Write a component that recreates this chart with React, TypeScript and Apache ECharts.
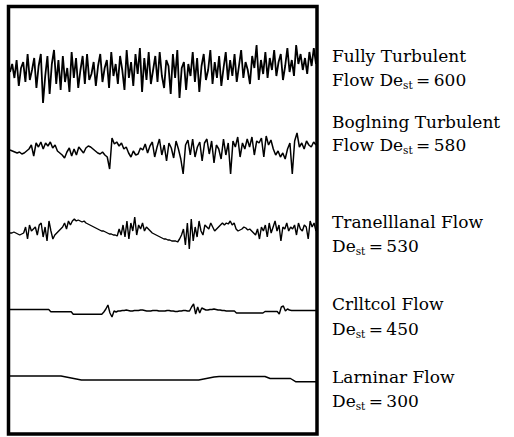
import React, { useEffect, useRef } from "react";
import * as echarts from "echarts";

// Signal traces (vertical deflection in px-like units, positive = up)
const fullyTurbulent = [
  0, 8, -6, 12, -14, 4, 10, -10, 18, -8, 2, 14, -16, 6, 18, -31, -4, 16, -22, 8,
  22, -12, 12, -18, 16, -10, 4, -20, 20, -6, 14, -16, 2, 16, -12, 18, -8, -2, 10, -14,
  6, 18, -10, 4, 12, -16, 20, -4, 8, -12, 16, 2, -18, 22, -6, 10, -14, 18, -2, 24,
  -20, 14, -8, 20, -12, 2, 16, -10, 20, -4, -16, 12, 6, -22, 18, -6, 22, -26, 4, 10,
  -18, 8, -4, 20, -10, 14, -20, 6, 18, -8, 2, 22, -12, 10, -6, 16, -14, 4, 20, -8,
  12, -4, 18, -10, 6, 22, -6, 10, 2, -12, 16, 4, 27, -8, 12, -2, 20, -6, 14, 2,
  22, -4, 10, 18, -8, 6, 24, 0, 12, -4, 27, 8, 18, 2, 14, -2, 20, 6, 24, 8,
];

const beginningTurbulent = [
  1, 0, -1, -2, -1, -3, -2, 0, 2, 6,
  -5, 8, 4, 9, 2, 8, 5, 9, 3, 6,
  0, -2, -4, -7, -1, 3, -5, 2, -4, 4,
  1, -2, 3, 5, 4, 2, 0, -2, -3, -1,
  -4, -6, -18, 13, 7, 9, 5, 8, 2, 4,
  -2, -6, 0, -4, -3, 3, 1, 7, -2, 5,
  9, -6, 4, 12, -4, 6, -10, 8, 3, -7,
  10, 2, -8, -23, 6, 11, -4, 12, -6, 4,
  9, -10, 8, 12, -3, 10, -12, 6, 2, -8,
  12, -4, 8, -23, 10, 4, 14, -6, 8, 2,
  12, 4, 14, -4, 10, 8, 13, -6, 15, 6,
  11, 2, -4, 0, -6, -2, -8, 2, 8, -23,
  10, 18, 4, 8, 2, 10, 6, 4, 9, 6,
];

const transitional = [
  0, 0, 1, 0, -1, -2, -1, 0,
  6, -6, 8, 2, 4, 6, -2, 8, 10, -4, 6, -8, 12, 2, -6,
  -2, 0, 2, 4, 6, 10, 4, 12, 8,
  12, 14, 12, 13, 12, 11, 12, 10,
  9, 8, 7, 6, 5, 4, 3, 2, 2, 1, 0, -1, -1, -2, -2, -3,
  4, -2, 8, -4, 12, -6, 10, 2, 16, -2, 8, 4, 10, 2, 6,
  4, 2, 0, -1, -2, -3, -4, -5, -6, -6, -7, -7, -8, -8, -8, -9,
  -6, -2, 4, -12, 10, -16, 14, -8, 6, -4, 12, 2, -2, 8, 6, 4, 10, 6, 2,
  4, 6, 8, 10, 8, 10, 9, 12, 8, 10, 4, 2, 3,
  4, 6, 5, 3, 4, 2, 0, -2, 4,
  -6, 6, 2, 8, -4, 10, 0, 6, 12, 2, 8, -8, 6, 4, 10, 2, 6, 4, 8, -2, 10, 4, 2, 8, 6, -6, 12, 6, 10, 2,
];

const critical = [
  0.5, 0.5, 0.5, 0.5, 0.5, 0.5, 0.5, 0.5, 0.5, 0.5, 0.5, 0.5, 0.5, 0.5, 0.5, 0.5, 0.5, 0.5, 0.5, 0.5,
  -1.7, -1.7, -1.7, -1.7, -1.7, -1.7, -1.7, -1.7, -1.7, -1.7, -1.7,
  -4.3, -4.3, -4.3, -4.3, -4.3, -4.3, -4.3, -4.3, -4.3, -4.3, -4.3, -4.3, -4.3, -4.3, -4.3,
  -2, 1, 5, -3, -7, -1, -2,
  -1, -1, -0.5, -0.5, 0, -0.5, -1, -1, -0.5, -0.5, -0.5, 0, 0, -0.5, -1, -1, -1, -0.5,
  -0.5, -0.5, -1, -1, -1, -1, -0.5, -0.5, -1, -1, -1.5, -1.5, -1, -1, -0.5, -0.5, -1, -1,
  3, 6, -4, 3, -3, 2, 1, 0,
  0, 0.5, 0.5, 1, 0.5, 0, 0, -0.5, -0.5, -1, -1, -1, -1, -1,
  -3, -3, -3, -3, -3, -3, -3, -3, -3, -3, -3, -3, -3, -3,
  -1.5, -1.5, -1.5, -1.5, -1.5, -1.5, -1.5,
  -4, 3, 4, -1, 1, 0,
  -0.5, -0.5, -0.5, -0.5, -0.5, -0.5, -0.5, -0.5, -0.5, -0.5, -0.5, -0.5, -0.5,
];

const laminar = [
  2, 2, 2, 2, 2, 2, 2, 2, 2, 2, 2,
  1, 0, -1,
  -2, -2, -2, -2, -2, -2, -2, -2, -2, -2, -2, -2, -2, -2, -2, -2, -2, -2, -2, -2, -2, -2, -2, -2,
  -1, 0, 1,
  1.5, 1.5, 1.5, 1.5, 1.5, 1.5, 1.5, 1.5, 1.5, 1.5,
  -0.5, -0.5, -0.5, -0.5, -0.5,
  -3.7, -3.7, -3.7, -3.7, -3.7,
];

const regimeNames = [
  "Fully Turbulent",
  "Boglning Turbulent",
  "Tranelllanal Flow",
  "Crlltcol Flow",
  "Larninar Flow",
];
const deanNumbers = [600, 580, 530, 450, 300];
const secondLinePrefix = ["Flow ", "Flow ", "", "", ""];

export default function App() {
  const ref = useRef<HTMLDivElement>(null);

  useEffect(() => {
    if (!ref.current) return;
    const chart = echarts.init(ref.current, undefined, { renderer: "svg" });

    const traces = [fullyTurbulent, beginningTurbulent, transitional, critical, laminar];
    const centers = [72, 151, 233, 310, 378];
    const widths = [1.8, 1.5, 1.4, 1.4, 1.4];
    const half = 40;

    const grids = centers.map((c) => ({
      left: 10,
      right: 514 - 316,
      top: c - half,
      height: half * 2,
      show: false,
    }));
    const xAxes = traces.map((t, i) => ({
      type: "value" as const,
      gridIndex: i,
      min: 0,
      max: t.length - 1,
      show: false,
    }));
    const yAxes = traces.map((_, i) => ({
      type: "value" as const,
      gridIndex: i,
      min: -half,
      max: half,
      show: false,
    }));
    const series = traces.map((t, i) => ({
      type: "line" as const,
      xAxisIndex: i,
      yAxisIndex: i,
      showSymbol: false,
      symbol: "none",
      data: t.map((v, k) => [k, v]),
      lineStyle: { color: "#000", width: widths[i] },
      silent: true,
    }));

    const baselines = [
      [62, 86],
      [128, 151],
      [228, 252],
      [310, 335],
      [383, 407],
    ];
    const family = "DejaVu Serif";
    const labelEls: any[] = [];
    regimeNames.forEach((name, i) => {
      labelEls.push({
        type: "text",
        x: 332,
        y: baselines[i][0] - 6,
        style: {
          text: name,
          fontFamily: family,
          fontSize: 17,
          fill: "#000",
          verticalAlign: "middle",
        },
      });
      labelEls.push({
        type: "text",
        x: 332,
        y: baselines[i][1] - 6,
        style: {
          text: `${secondLinePrefix[i]}De{s|st}\u2009=\u2009${deanNumbers[i]}`,
          fontFamily: family,
          fontSize: 17,
          fill: "#000",
          lineHeight: 21,
          verticalAlign: "middle",
          rich: {
            s: { fontFamily: family, fontSize: 10.5, lineHeight: 12, verticalAlign: "bottom", fill: "#000" },
          },
        },
      });
    });

    chart.setOption({
      animation: false,
      backgroundColor: "#fff",
      grid: grids,
      xAxis: xAxes,
      yAxis: yAxes,
      series,
      graphic: [
        {
          type: "rect",
          shape: { x: 8.5, y: 6.5, width: 308.5, height: 427.5 },
          style: { fill: "none", stroke: "#000", lineWidth: 3.5 },
          silent: true,
        },
        ...labelEls,
      ],
    });

    return () => chart.dispose();
  }, []);

  return (
    <div
      ref={ref}
      style={{ position: "fixed", left: 0, top: 0, width: 514, height: 437 }}
    />
  );
}
